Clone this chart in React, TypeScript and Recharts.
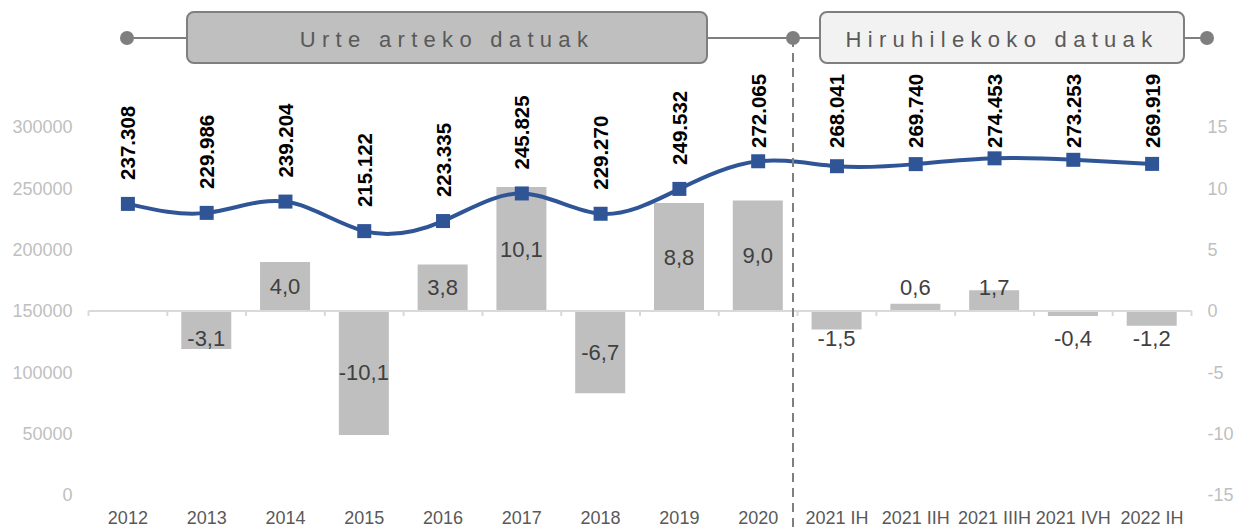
import React from 'react';
import { ComposedChart, Bar, Line, XAxis, YAxis, ReferenceLine, LabelList } from 'recharts';

const categories = ['2012', '2013', '2014', '2015', '2016', '2017', '2018', '2019', '2020', '2021 IH', '2021 IIH', '2021 IIIH', '2021 IVH', '2022 IH'];
const population = [237308, 229986, 239204, 215122, 223335, 245825, 229270, 249532, 272065, 268041, 269740, 274453, 273253, 269919];
const change = [null, -3.1, 4.0, -10.1, 3.8, 10.1, -6.7, 8.8, 9.0, -1.5, 0.6, 1.7, -0.4, -1.2];
const leftTicks = [0, 50000, 100000, 150000, 200000, 250000, 300000];
const rightTicks = [-15, -10, -5, 0, 5, 10, 15];

const W = 1248;
const H = 528;
const TOP = 127;
const LEFT_W = 88.5;
const RIGHT_W = 56.5;
const X_H = 33;
const PLOT_W = W - LEFT_W - RIGHT_W;
const PLOT_H = H - TOP - X_H;
const BAND = PLOT_W / categories.length;
const LABEL_FLOOR = 148; // rotated labels never run up into the header band
const FONT = '"Liberation Sans", Arial, sans-serif';

const data = categories.map((c, i) => ({ name: c, pop: population[i], chg: change[i] }));

const CategoryTick = ({ x, y, payload, index }: any) => {
    const zeroY = y - PLOT_H / 2;
    const last = index === categories.length - 1;
    return (
        <g>
            <line x1={x - BAND / 2} x2={x - BAND / 2} y1={zeroY} y2={zeroY + 5} stroke="#d9d9d9" strokeWidth={2} />
            {last && <line x1={x + BAND / 2} x2={x + BAND / 2} y1={zeroY} y2={zeroY + 5} stroke="#d9d9d9" strokeWidth={2} />}
            <text x={x} y={y + 23} textAnchor="middle" dominantBaseline="central" fill="#595959" fontSize={18} fontFamily={FONT}>
                {payload.value}
            </text>
        </g>
    );
};

const BarValueLabel = ({ x, y, width, height, value }: any) => {
    if (value == null) return null;
    const top = Math.min(y, y + height);
    const bottom = Math.max(y, y + height);
    const h = bottom - top;
    const cy = value >= 0 ? bottom - Math.max(h / 2, 24) : top + Math.max(h / 2, 27);
    return (
        <text x={x + width / 2} y={cy} textAnchor="middle" dominantBaseline="central" fill="#404040" fontSize={22} fontFamily={FONT}>
            {value.toFixed(1).replace('.', ',')}
        </text>
    );
};

const LineValueLabel = ({ x, y, value }: any) => {
    const ty = Math.max(y - 24, LABEL_FLOOR);
    return (
        <text x={x} y={ty} transform={`rotate(-90 ${x} ${ty})`} textAnchor="start" dominantBaseline="central" fill="#000" fontSize={20.5} fontWeight="bold" fontFamily={FONT}>
            {(value / 1000).toFixed(3)}
        </text>
    );
};

const SquareDot = ({ cx, cy }: any) => {
    if (cx == null || cy == null) return null;
    return <rect x={cx - 7} y={cy - 7} width={14} height={14} fill="#2f5597" />;
};

// header bands + dashed split between yearly and quarterly data
const Header = () => (
    <svg width={W} height={H} style={{ position: 'absolute', left: 0, top: 0, pointerEvents: 'none' }}>
        <line x1={127} x2={1207} y1={38} y2={38} stroke="#7f7f7f" strokeWidth={2} />
        <line x1={793} x2={793} y1={38} y2={H} stroke="#7f7f7f" strokeWidth={2} strokeDasharray="9 6" />
        <circle cx={127} cy={38} r={7} fill="#7f7f7f" />
        <circle cx={793} cy={38} r={7} fill="#7f7f7f" />
        <circle cx={1207} cy={38} r={7} fill="#7f7f7f" />
        <rect x={187} y={12} width={520} height={51} rx={7} fill="#bfbfbf" stroke="#7f7f7f" strokeWidth={2} />
        <rect x={820} y={12} width={364} height={51} rx={7} fill="#f2f2f2" stroke="#7f7f7f" strokeWidth={2} />
        <text x={447} y={39} textAnchor="middle" dominantBaseline="central" fill="#595959" fontSize={22} letterSpacing={6.3} fontFamily={FONT}>
            Urte arteko datuak
        </text>
        <text x={1002} y={39} textAnchor="middle" dominantBaseline="central" fill="#595959" fontSize={22} letterSpacing={6.3} fontFamily={FONT}>
            Hiruhilekoko datuak
        </text>
    </svg>
);

export default function App() {
    return (
        <div style={{ position: 'absolute', left: 0, top: 0, width: W, height: H, background: '#fff' }}>
            <ComposedChart width={W} height={H} data={data} margin={{ top: TOP, right: 0, bottom: 0, left: 0 }}>
                <XAxis dataKey="name" height={X_H} axisLine={false} tickLine={false} tickSize={0} tickMargin={0} interval={0} tick={<CategoryTick />} />
                <YAxis yAxisId="left" width={LEFT_W} domain={[0, 300000]} ticks={leftTicks} axisLine={false} tickLine={false} tickSize={0} tickMargin={16}
                    tick={{ fill: '#bfbfbf', fontSize: 18, fontFamily: FONT }} />
                <YAxis yAxisId="right" orientation="right" width={RIGHT_W} domain={[-15, 15]} ticks={rightTicks} axisLine={false} tickLine={false} tickSize={0} tickMargin={16}
                    tick={{ fill: '#bfbfbf', fontSize: 18, fontFamily: FONT }} />
                <ReferenceLine yAxisId="right" y={0} stroke="#d9d9d9" strokeWidth={2} />
                <Bar yAxisId="right" dataKey="chg" fill="#bfbfbf" barSize={50} isAnimationActive={false}>
                    <LabelList dataKey="chg" content={<BarValueLabel />} />
                </Bar>
                <Line yAxisId="left" type="natural" dataKey="pop" stroke="#2f5597" strokeWidth={4} dot={<SquareDot />} activeDot={false} isAnimationActive={false}>
                    <LabelList dataKey="pop" content={<LineValueLabel />} />
                </Line>
            </ComposedChart>
            <Header />
        </div>
    );
}
